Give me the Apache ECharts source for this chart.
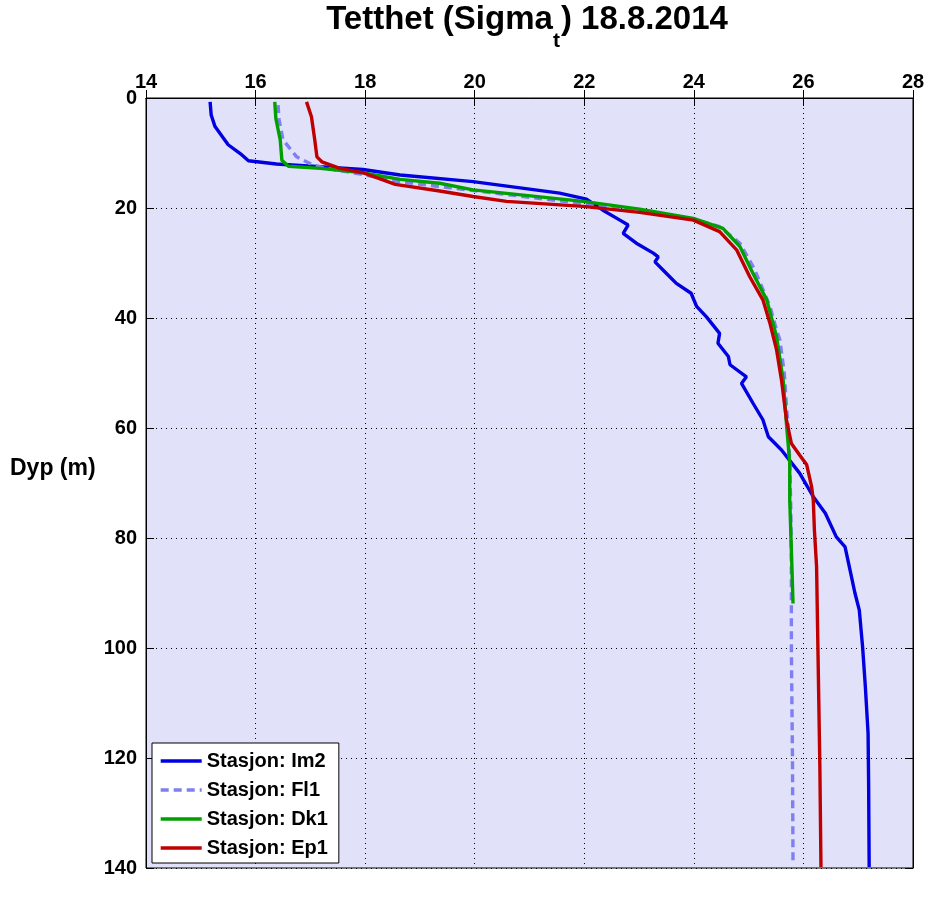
<!DOCTYPE html>
<html>
<head>
<meta charset="utf-8">
<script src="https://cdn.jsdelivr.net/npm/echarts@6/dist/echarts.min.js"></script>
<style>
html,body{margin:0;padding:0;background:#fff;}
#chart{width:946px;height:898px;}
</style>
</head>
<body>
<div id="chart"></div>
<script>
// ---- Data (sigma-t vs depth) ----
const xTicks = [14, 16, 18, 20, 22, 24, 26, 28];
const yTicks = [0, 20, 40, 60, 80, 100, 120, 140];
const seriesNames = ['Stasjon: Im2', 'Stasjon: Fl1', 'Stasjon: Dk1', 'Stasjon: Ep1'];
const titleParts = ['Tetthet (Sigma', 't', ') 18.8.2014'];
const yName = 'Dyp (m)';

const im2Depth = [0.7, 3.1, 5.2, 8.5, 10.1, 11.4, 12.0, 12.5, 13.0, 14.0, 15.2, 17.3, 18.4, 20.4, 22.2, 23.1, 24.6, 26.4, 28.2, 28.9, 29.8, 31.9, 33.7, 35.5, 37.9, 39.8, 42.8, 44.6, 47.0, 48.5, 50.7, 51.9, 55.5, 58.5, 61.6, 64.0, 68.2, 72.5, 75.5, 79.8, 81.6, 85.8, 90.0, 93.1, 99.8, 107.0, 115.5, 124.6, 139.8];
const im2Sigma = [15.17, 15.19, 15.26, 15.5, 15.72, 15.87, 16.38, 17.18, 17.96, 18.64, 19.97, 21.55, 22.04, 22.34, 22.65, 22.8, 22.71, 22.95, 23.26, 23.35, 23.29, 23.5, 23.68, 23.95, 24.05, 24.23, 24.47, 24.44, 24.63, 24.66, 24.96, 24.87, 25.08, 25.26, 25.36, 25.6, 25.93, 26.18, 26.4, 26.6, 26.76, 26.85, 26.94, 27.02, 27.08, 27.13, 27.18, 27.19, 27.2];

const fl1Depth = [1.3, 4.0, 7.6, 10.7, 12.2, 12.8, 13.8, 15.2, 17.4, 19.0, 20.2, 22.0, 23.4, 26.4, 31.0, 37.9, 42.2, 44.0, 50.0, 56.1, 59.5, 66.0, 75.0, 85.0, 100.4, 120.0, 139.0];
const fl1Sigma = [16.41, 16.43, 16.5, 16.75, 17.05, 17.3, 17.9, 18.6, 20.46, 21.8, 22.8, 24.0, 24.47, 24.84, 25.1, 25.39, 25.51, 25.57, 25.65, 25.69, 25.72, 25.75, 25.77, 25.78, 25.78, 25.8, 25.81];

const dk1Depth = [0.7, 3.7, 7.6, 11.3, 12.4, 12.8, 13.6, 14.8, 15.5, 16.7, 18.8, 20.2, 21.9, 23.7, 27.0, 31.9, 36.7, 43.4, 51.3, 59.2, 66.4, 73.1, 82.2, 91.9];
const dk1Sigma = [16.35, 16.37, 16.45, 16.48, 16.6, 17.18, 17.97, 18.64, 19.36, 19.97, 21.98, 23.01, 23.99, 24.53, 24.84, 25.08, 25.33, 25.51, 25.63, 25.69, 25.75, 25.75, 25.78, 25.81];

const ep1Depth = [0.7, 3.4, 7.6, 10.7, 11.6, 12.8, 13.6, 15.7, 16.9, 17.9, 18.8, 19.7, 20.8, 22.2, 24.3, 27.6, 32.5, 36.7, 41.0, 45.8, 51.3, 58.5, 62.8, 64.9, 66.7, 70.7, 73.1, 78.5, 85.2, 103.4, 121.6, 139.8];
const ep1Sigma = [16.93, 17.02, 17.08, 17.12, 17.21, 17.54, 17.97, 18.55, 19.36, 19.97, 20.58, 21.98, 23.01, 23.99, 24.47, 24.78, 25.02, 25.26, 25.39, 25.51, 25.6, 25.69, 25.78, 25.93, 26.06, 26.15, 26.18, 26.2, 26.24, 26.27, 26.3, 26.32];

// ---- Build ----
const FONT = '"Liberation Sans", Arial, sans-serif';
function pairs(xs, ds) { return xs.map((v, i) => [v, ds[i]]); }

// measure title fragments so the subscript can be placed between them
const mctx = document.createElement('canvas').getContext('2d');
function textW(t, size) { mctx.font = 'bold ' + size + 'px ' + FONT; return mctx.measureText(t).width; }
const T_MAIN = 33, T_SUB = 21, T_CX = 527;
const w1 = textW(titleParts[0], T_MAIN), w2 = textW(titleParts[1], T_SUB) + 1, w3 = textW(titleParts[2], T_MAIN);
const tx0 = T_CX - (w1 + w2 + w3) / 2;

const chart = echarts.init(document.getElementById('chart'), null, {renderer: 'canvas'});

const xMin = xTicks[0], xMax = xTicks[xTicks.length - 1];
const yMin = yTicks[0], yMax = yTicks[yTicks.length - 1];
const labelStyle = {fontFamily: FONT, fontWeight: 'bold', fontSize: 20, color: '#000'};
const LW = 3.4;

function lineSeries(name, color, xs, ds, dash) {
  return {
    name: name, type: 'line', xAxisIndex: 0, yAxisIndex: 0,
    symbol: 'none', showSymbol: false, smooth: false,
    lineStyle: {color: color, width: LW, type: dash || 'solid'},
    itemStyle: {color: color},
    data: pairs(xs, ds)
  };
}

const option = {
  animation: false,
  backgroundColor: '#fff',
  grid: {
    left: 146, top: 98, width: 767, height: 770,
    show: true, backgroundColor: '#e1e1fa', borderColor: '#000', borderWidth: 1,
    containLabel: false
  },
  xAxis: [
    {
      type: 'value', position: 'top', min: xMin, max: xMax, interval: 2,
      axisLine: {show: true, lineStyle: {color: '#000', width: 1}},
      axisTick: {show: true, inside: true, length: 8, lineStyle: {color: '#000'}},
      axisLabel: Object.assign({margin: 6, showMinLabel: true, showMaxLabel: true}, labelStyle),
      splitLine: {show: true, lineStyle: {color: '#000', width: 1, type: [1, 4]}}
    },
    {
      type: 'value', position: 'bottom', min: xMin, max: xMax, interval: 2,
      axisLine: {show: true, lineStyle: {color: '#000', width: 1}},
      axisTick: {show: true, inside: true, length: 8, lineStyle: {color: '#000'}},
      axisLabel: {show: false},
      splitLine: {show: false}
    }
  ],
  yAxis: [
    {
      type: 'value', inverse: true, position: 'left', min: yMin, max: yMax, interval: 20,
      axisLine: {show: true, lineStyle: {color: '#000', width: 1}},
      axisTick: {show: true, inside: true, length: 8, lineStyle: {color: '#000'}},
      axisLabel: Object.assign({margin: 9, showMinLabel: true, showMaxLabel: true}, labelStyle),
      splitLine: {show: true, lineStyle: {color: '#000', width: 1, type: [1, 4]}}
    },
    {
      type: 'value', inverse: true, position: 'right', min: yMin, max: yMax, interval: 20,
      axisLine: {show: true, lineStyle: {color: '#000', width: 1}},
      axisTick: {show: true, inside: true, length: 8, lineStyle: {color: '#000'}},
      axisLabel: {show: false},
      splitLine: {show: false}
    }
  ],
  legend: {
    orient: 'vertical', left: 152, top: 743,
    backgroundColor: '#fff', borderColor: '#000', borderWidth: 1,
    padding: [7, 11, 4, 7],
    itemWidth: 41, itemHeight: 14, itemGap: 7,
    itemStyle: {color: 'rgba(0,0,0,0)', borderColor: 'rgba(0,0,0,0)', borderWidth: 0},
    lineStyle: {width: LW},
    textStyle: {fontFamily: FONT, fontWeight: 'bold', fontSize: 20, color: '#000', lineHeight: 22},
    data: seriesNames
  },
  series: [
    lineSeries(seriesNames[0], '#0000e0', im2Sigma, im2Depth),
    lineSeries(seriesNames[1], '#7f7ff2', fl1Sigma, fl1Depth, [8, 5]),
    lineSeries(seriesNames[2], '#00a000', dk1Sigma, dk1Depth),
    lineSeries(seriesNames[3], '#c00000', ep1Sigma, ep1Depth)
  ],
  graphic: [
    {type: 'text', x: tx0, y: 3,
     style: {text: titleParts[0], fontFamily: FONT, fontWeight: 'bold', fontSize: T_MAIN, fill: '#000', align: 'left', verticalAlign: 'top'}},
    {type: 'text', x: tx0 + w1, y: 31,
     style: {text: titleParts[1], fontFamily: FONT, fontWeight: 'bold', fontSize: T_SUB, fill: '#000', align: 'left', verticalAlign: 'top'}},
    {type: 'text', x: tx0 + w1 + w2, y: 3,
     style: {text: titleParts[2], fontFamily: FONT, fontWeight: 'bold', fontSize: T_MAIN, fill: '#000', align: 'left', verticalAlign: 'top'}},
    {type: 'text', x: 10, y: 469,
     style: {text: yName, fontFamily: FONT, fontWeight: 'bold', fontSize: 23, fill: '#000', align: 'left', verticalAlign: 'middle'}}
  ]
};
chart.setOption(option);
</script>
</body>
</html>
